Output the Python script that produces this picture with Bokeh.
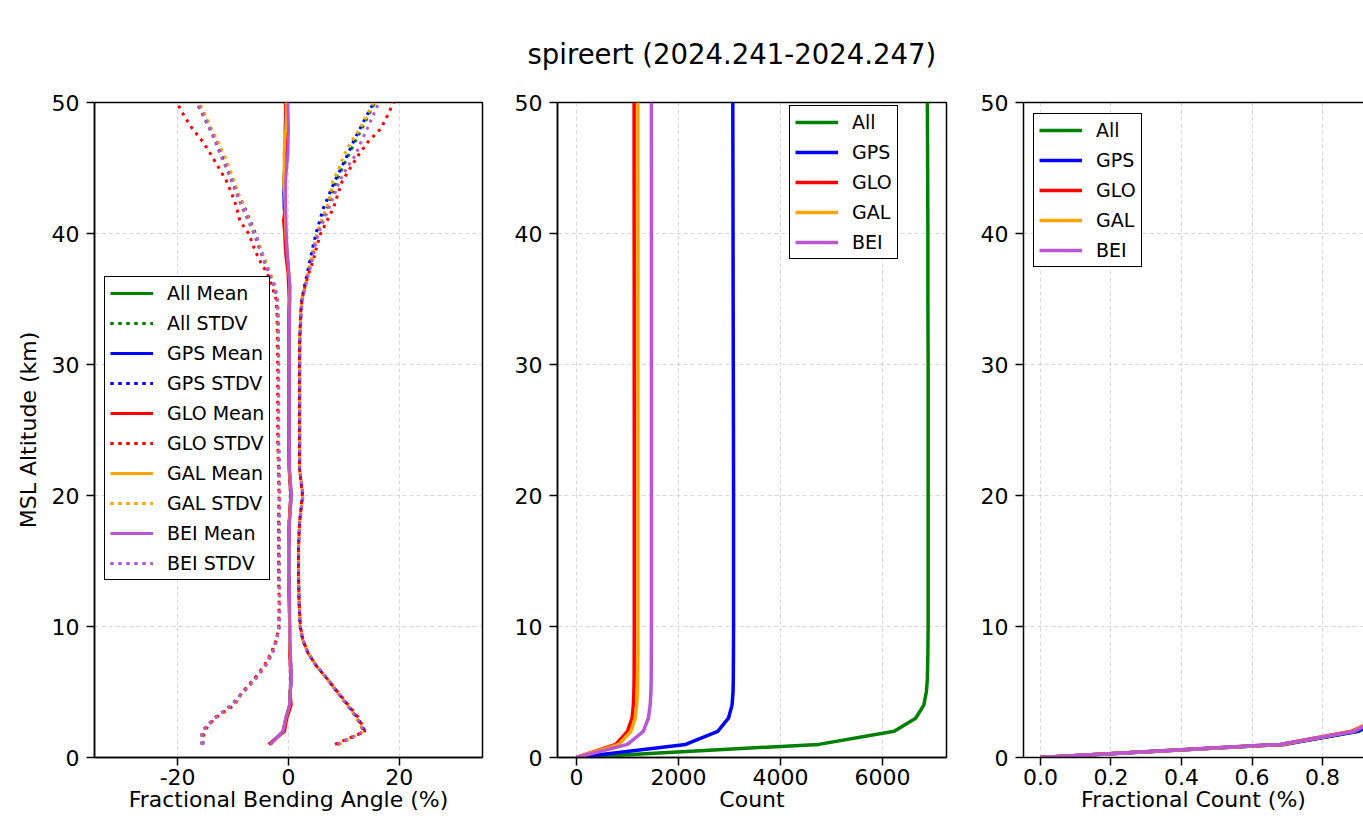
import numpy as np
from bokeh.plotting import figure
from bokeh.layouts import row
from bokeh.models import (Legend, LegendItem, FixedTicker, Range1d, LinearAxis,
                          Title, NumeralTickFormatter)
from bokeh.embed import file_html
from bokeh.resources import INLINE

FONT = "DejaVu Sans"
TITLE = "spireert (2024.241-2024.247)"
SERIES = ["All", "GPS", "GLO", "GAL", "BEI"]
COLORS = ["green", "blue", "red", "orange", "#ba55d3"]

# ---- fractional bending angle statistics (percent) vs MSL altitude (km)
alt_ba = [1, 2, 3, 4, 5, 6, 7, 8, 9, 10,
          12, 14, 16, 18, 20, 22, 24, 26, 28, 30, 32, 34,
          35, 36, 37, 38, 39, 40, 41, 42, 43, 44, 45, 46, 47, 48, 49, 50]

mean_all = [-3.3, -1.0, -0.5, 0.2, 0.3, 0.5, 0.4, 0.3, 0.2, 0.2,
            0.15, 0.05, 0.05, 0.15, 0.5, 0.15, 0.1, 0.1, 0.1, 0.1, 0.1, 0.15,
            0.2, 0.2, 0.0, -0.2, -0.4, -0.5, -0.6, -0.65, -0.75, -0.8, -0.75, -0.65, -0.55, -0.5, -0.5, -0.5]
std_all = [12.1, 14.6, 12.9, 10.4, 8.5, 6.5, 4.6, 3.2, 2.35, 1.9,
           1.75, 1.75, 1.75, 1.85, 2.1, 1.85, 1.9, 1.9, 1.9, 1.9, 1.95, 2.1,
           2.25, 2.8, 3.5, 4.25, 4.95, 5.7, 6.65, 7.65, 8.55, 9.45, 10.45, 11.5, 12.55, 13.75, 14.9, 16.1]

mean_gps = [-3.4, -0.9, -0.4, 0.2, 0.3, 0.5, 0.4, 0.3, 0.2, 0.2,
            0.15, 0.05, 0.05, 0.15, 0.45, 0.15, 0.1, 0.1, 0.1, 0.1, 0.1, 0.15,
            0.2, 0.2, 0.0, -0.2, -0.4, -0.5, -0.65, -0.8, -0.85, -0.8, -0.7, -0.65, -0.6, -0.6, -0.55, -0.5]
std_gps = [12.2, 14.7, 12.9, 10.5, 8.5, 6.5, 4.6, 3.2, 2.35, 1.9,
           1.75, 1.75, 1.75, 1.85, 2.1, 1.85, 1.9, 1.9, 1.9, 1.9, 1.95, 2.1,
           2.2, 2.7, 3.4, 4.1, 4.8, 5.45, 6.3, 7.15, 8.2, 9.15, 10.2, 11.3, 12.3, 13.5, 14.65, 15.9]

mean_glo = [-3.6, -0.7, -0.3, 0.5, 0.3, 0.4, 0.3, 0.2, 0.2, 0.2,
            0.1, 0.0, 0.0, 0.1, 0.4, 0.1, 0.0, 0.0, 0.0, 0.0, 0.0, 0.05,
            0.1, 0.0, -0.1, -0.4, -0.6, -0.7, -0.9, -0.6, -0.65, -0.75, -0.7, -0.65, -0.55, -0.35, -0.5, -0.6]
std_glo = [12.0, 14.5, 13.0, 10.3, 8.6, 6.6, 4.7, 3.3, 2.4, 1.95,
           1.8, 1.8, 1.8, 1.9, 2.1, 1.9, 1.95, 1.95, 1.95, 1.95, 2.0, 2.15,
           2.35, 3.0, 3.8, 4.9, 5.7, 6.5, 7.9, 8.75, 9.55, 10.45, 11.85, 13.3, 14.9, 17.0, 18.35, 19.55]

mean_gal = [-3.2, -1.0, -0.5, 0.2, 0.3, 0.5, 0.4, 0.3, 0.2, 0.2,
            0.15, 0.05, 0.05, 0.15, 0.5, 0.15, 0.1, 0.1, 0.1, 0.1, 0.1, 0.15,
            0.2, 0.25, 0.1, -0.1, -0.3, -0.5, -0.55, -0.6, -0.7, -0.9, -0.75, -0.8, -0.7, -0.5, -0.4, -0.4]
std_gal = [12.3, 14.6, 12.8, 10.4, 8.4, 6.4, 4.6, 3.2, 2.3, 1.9,
           1.75, 1.75, 1.75, 1.85, 2.1, 1.85, 1.9, 1.9, 1.9, 1.9, 1.95, 2.1,
           2.2, 2.75, 3.45, 4.2, 4.9, 5.6, 6.5, 7.5, 8.3, 8.9, 9.9, 10.8, 12.0, 13.4, 14.55, 15.75]

mean_bei = [-3.3, -1.0, -0.5, 0.2, 0.35, 0.55, 0.45, 0.35, 0.25, 0.25,
            0.2, 0.1, 0.1, 0.2, 0.55, 0.2, 0.15, 0.15, 0.15, 0.15, 0.15, 0.2,
            0.25, 0.25, 0.05, -0.1, -0.3, -0.4, -0.45, -0.5, -0.5, -0.5, -0.35, -0.1, -0.05, 0.0, -0.05, -0.1]
std_bei = [12.1, 14.6, 12.9, 10.4, 8.5, 6.5, 4.6, 3.2, 2.35, 1.9,
           1.75, 1.75, 1.75, 1.85, 2.1, 1.85, 1.9, 1.9, 1.9, 1.9, 1.95, 2.1,
           2.3, 2.85, 3.6, 4.4, 5.1, 5.8, 6.8, 7.85, 8.8, 9.7, 10.85, 12.2, 13.15, 14.2, 15.3, 16.4]

# ---- profile counts vs MSL altitude (km)
alt_cnt = [0, 1, 2, 3, 4, 5, 6, 8, 10, 15, 20, 25, 30, 35, 40, 45, 50]
cnt_all = [0, 4750, 6230, 6650, 6810, 6860, 6880, 6890, 6895, 6895, 6895, 6895, 6895, 6890, 6890, 6885, 6880]
cnt_gps = [0, 2140, 2770, 2980, 3050, 3070, 3075, 3078, 3080, 3080, 3080, 3078, 3075, 3072, 3070, 3068, 3065]
cnt_glo = [0, 770, 1000, 1090, 1115, 1125, 1130, 1132, 1133, 1133, 1133, 1133, 1132, 1132, 1131, 1130, 1130]
cnt_gal = [0, 830, 1070, 1150, 1180, 1195, 1200, 1205, 1205, 1205, 1205, 1205, 1205, 1205, 1205, 1205, 1205]
cnt_bei = [0, 1000, 1310, 1410, 1445, 1460, 1465, 1468, 1470, 1470, 1470, 1470, 1470, 1470, 1470, 1470, 1468]

y_ticks = [0, 10, 20, 30, 40, 50]
ba_ticks = [-20, 0, 20]
ba_tick_labels = {-20: "-20", 0: "0", 20: "20"}
cnt_ticks = [0, 2000, 4000, 6000]
frac_ticks = [0.0, 0.2, 0.4, 0.6, 0.8]

MEANS = [mean_all, mean_gps, mean_glo, mean_gal, mean_bei]
STDS = [std_all, std_gps, std_glo, std_gal, std_bei]
COUNTS = [cnt_all, cnt_gps, cnt_glo, cnt_gal, cnt_bei]


def make_fig(width, xr, left, right):
    p = figure(width=width, height=819, x_range=xr, y_range=Range1d(0, 50),
               output_backend="svg", toolbar_location=None,
               min_border_left=left, min_border_right=right,
               min_border_top=102, min_border_bottom=62)
    p.background_fill_color = "white"
    p.border_fill_color = "white"
    p.outline_line_color = "black"
    p.outline_line_width = 1.5
    p.outline_line_alpha = 1
    p.yaxis.ticker = FixedTicker(ticks=y_ticks)
    p.axis.major_tick_out = 8
    p.axis.major_tick_in = 0
    p.axis.major_tick_line_width = 1.5
    p.axis.major_tick_line_color = "black"
    p.axis.minor_tick_line_color = None
    p.axis.axis_line_color = "black"
    p.axis.axis_line_width = 1.5
    p.axis.major_label_text_font = FONT
    p.axis.major_label_text_font_size = "22px"
    p.axis.major_label_text_color = "black"
    p.axis.axis_label_text_font = FONT
    p.axis.axis_label_text_font_size = "22px"
    p.axis.axis_label_text_font_style = "normal"
    p.axis.axis_label_text_color = "black"
    p.yaxis.major_label_standoff = 7
    p.xaxis.major_label_standoff = 3
    p.xaxis.axis_label_standoff = -1
    p.yaxis.axis_label_standoff = 8
    p.grid.grid_line_color = "#b0b0b0"
    p.grid.grid_line_alpha = 0.5
    p.grid.grid_line_dash = "4 3"
    p.grid.grid_line_width = 1
    return p


def make_legend(items, loc):
    return Legend(items=items, location=loc, border_line_color="black",
                  border_line_width=1.3, border_line_alpha=1,
                  background_fill_color="white", background_fill_alpha=1,
                  label_text_font=FONT, label_text_font_size="19px",
                  label_text_color="black",
                  glyph_width=43, glyph_height=20, label_height=20,
                  spacing=8, padding=5, margin=0, label_standoff=14)


# ---------------- panel 1: fractional bending angle
p1 = make_fig(497, Range1d(-35, 35), 94, 15)
p1.xaxis.ticker = FixedTicker(ticks=ba_ticks)
p1.xaxis.major_label_overrides = ba_tick_labels
p1.xaxis.axis_label = "Fractional Bending Angle (%)"
p1.yaxis.axis_label = "MSL Altitude (km)"

items1 = []
for name, col, m, s in zip(SERIES, COLORS, MEANS, STDS):
    m = np.array(m)
    s = np.array(s)
    rm = p1.line(m, alt_ba, line_color=col, line_width=3)
    rl = p1.line(m - s, alt_ba, line_color=col, line_width=3, line_dash="3 5")
    rr = p1.line(m + s, alt_ba, line_color=col, line_width=3, line_dash="3 5")
    items1.append(LegendItem(label=f"{name} Mean", renderers=[rm]))
    items1.append(LegendItem(label=f"{name} STDV", renderers=[rl, rr]))
p1.add_layout(make_legend(items1, (10, 177)))

# ---------------- panel 2: counts
p2 = make_fig(464, Range1d(-372, 7255), 60, 15)
p2.xaxis.ticker = FixedTicker(ticks=cnt_ticks)
p2.xaxis.axis_label = "Count"
items2 = []
for name, col, c in zip(SERIES, COLORS, COUNTS):
    r = p2.line(c, alt_cnt, line_color=col, line_width=3.5)
    items2.append(LegendItem(label=name, renderers=[r]))
p2.add_layout(make_legend(items2, (232, 498)))
p2.title = Title(text=TITLE, align="left", offset=-30, standoff=66,
                 text_font=FONT, text_font_size="27.5px",
                 text_font_style="normal", text_color="black")

# ---------------- panel 3: fractional count (cut at the window edge)
p3 = make_fig(402, Range1d(-0.048, 0.916), 62, 0)
p3.xaxis.ticker = FixedTicker(ticks=frac_ticks)
p3.xaxis.formatter = NumeralTickFormatter(format="0.0")
p3.xaxis.axis_label = "Fractional Count (%)"
p3.outline_line_color = None
items3 = []
for name, col, c in zip(SERIES, COLORS, COUNTS):
    c = np.array(c, dtype=float)
    r = p3.line(c / c.max(), alt_cnt, line_color=col, line_width=3.5)
    items3.append(LegendItem(label=name, renderers=[r]))
p3.add_layout(make_legend(items3, (10, 490)))
top_ax = LinearAxis(ticker=FixedTicker(ticks=[]), major_label_text_font_size="0px",
                    major_tick_line_color=None, minor_tick_line_color=None,
                    axis_line_color="black", axis_line_width=1.5)
p3.add_layout(top_ax, "above")

layout = row(p1, p2, p3)
open("out.html", "w").write(file_html(layout, INLINE, TITLE))
